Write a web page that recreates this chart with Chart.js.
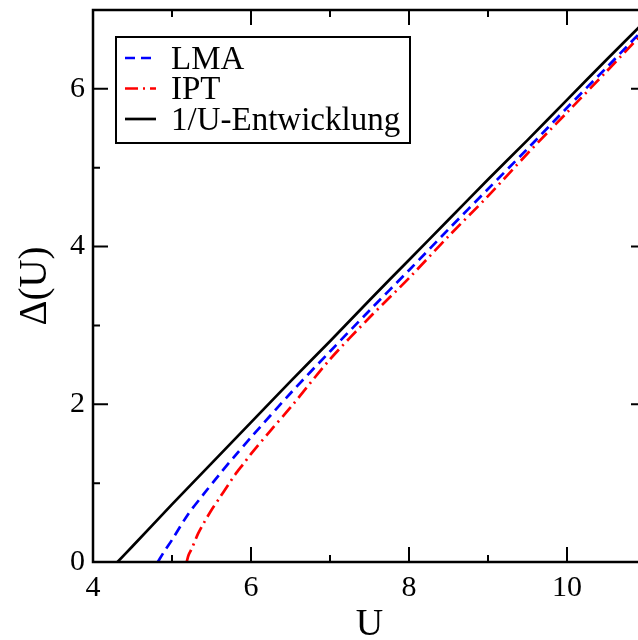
<!DOCTYPE html>
<html>
<head>
<meta charset="utf-8">
<script src="https://cdn.jsdelivr.net/npm/chart.js@4/dist/chart.umd.min.js"></script>
<style>
  html, body { margin: 0; padding: 0; background: #fff; overflow: hidden; }
  #wrap { width: 638px; height: 640px; overflow: hidden; }
</style>
</head>
<body>
<div id="wrap"><canvas id="gap" width="660" height="640"></canvas></div>
<script>
// values
const uLMA = [4.82, 4.9, 5.0, 5.2, 5.4, 5.6, 5.8, 6.0, 6.5, 7.0, 7.5, 8.0, 8.5, 9.0, 9.5, 10.0, 10.5, 11.0];
const gapLMA = [0, 0.13, 0.28, 0.60, 0.86, 1.11, 1.35, 1.58, 2.14, 2.67, 3.19, 3.70, 4.22, 4.73, 5.24, 5.76, 6.27, 6.79];

const uIPT = [5.186, 5.21, 5.25, 5.33, 5.4, 5.5, 5.6, 5.7, 5.8, 5.9, 6.0, 6.25, 6.5, 7.0, 7.5, 8.0, 8.5, 9.0, 9.5, 10.0, 10.5, 11.0];
const gapIPT = [0, 0.09, 0.17, 0.36, 0.49, 0.66, 0.81, 0.96, 1.11, 1.24, 1.37, 1.67, 1.96, 2.57, 3.10, 3.60, 4.13, 4.64, 5.18, 5.70, 6.22, 6.75];

const uExp = [4.31, 4.5, 5.0, 5.5, 6.0, 6.5, 7.0, 7.5, 8.0, 8.5, 9.0, 9.5, 10.0, 10.5, 11.0];
const gapExp = [0, 0.20, 0.73, 1.25, 1.77, 2.29, 2.80, 3.32, 3.83, 4.34, 4.85, 5.35, 5.86, 6.37, 6.87];

const xTicks = [4, 6, 8, 10];
const yTicks = [0, 2, 4, 6];

const serif = '"Liberation Serif", "Times New Roman", serif';

const pts = (xs, ys) => xs.map((x, i) => ({x: x, y: ys[i]}));

// frame, inward ticks on all four sides, legend box
const framePlugin = {
  id: 'frame',
  afterDraw(chart) {
    const ctx = chart.ctx;
    const a = chart.chartArea;
    const xs = chart.scales.x, ys = chart.scales.y;
    ctx.save();
    ctx.strokeStyle = '#000';
    ctx.lineWidth = 2.5;
    ctx.strokeRect(a.left, a.top, a.right - a.left, a.bottom - a.top);
    ctx.lineWidth = 2;
    ctx.beginPath();
    for (let v = 4; v <= 11; v++) {
      const len = v % 2 === 0 ? 15 : 7;
      const px = xs.getPixelForValue(v);
      ctx.moveTo(px, a.bottom); ctx.lineTo(px, a.bottom - len);
      ctx.moveTo(px, a.top); ctx.lineTo(px, a.top + len);
    }
    for (let v = 0; v <= 7; v++) {
      const len = v % 2 === 0 ? 15 : 7;
      const py = ys.getPixelForValue(v);
      ctx.moveTo(a.left, py); ctx.lineTo(a.left + len, py);
      ctx.moveTo(a.right, py); ctx.lineTo(a.right - len, py);
    }
    ctx.stroke();

    // legend
    const bx = 116, by = 37, bw = 294, bh = 106;
    ctx.fillStyle = '#fff';
    ctx.fillRect(bx, by, bw, bh);
    ctx.lineWidth = 2;
    ctx.strokeRect(bx, by, bw, bh);
    ctx.font = '33px ' + serif;
    ctx.textBaseline = 'middle';
    chart.data.datasets.forEach((ds, i) => {
      const ly = 58 + i * 30.5;
      ctx.strokeStyle = ds.borderColor;
      ctx.lineWidth = ds.borderWidth;
      ctx.setLineDash(ds.borderDash || []);
      ctx.beginPath();
      ctx.moveTo(125, ly); ctx.lineTo(156, ly);
      ctx.stroke();
      ctx.setLineDash([]);
      ctx.fillStyle = '#000';
      ctx.fillText(ds.label, 171, ly + 2);
    });
    ctx.restore();
  }
};

new Chart(document.getElementById('gap'), {
  type: 'line',
  data: {
    datasets: [
      {
        label: 'LMA',
        data: pts(uLMA, gapLMA),
        borderColor: '#0000ff',
        borderWidth: 2.7,
        borderDash: [10, 6]
      },
      {
        label: 'IPT',
        data: pts(uIPT, gapIPT),
        borderColor: '#ff0000',
        borderWidth: 2.7,
        borderDash: [13, 5, 2, 5]
      },
      {
        label: '1/U-Entwicklung',
        data: pts(uExp, gapExp),
        borderColor: '#000000',
        borderWidth: 2.7
      }
    ]
  },
  options: {
    responsive: false,
    animation: false,
    events: [],
    layout: { padding: { top: 10, right: 14, left: 0, bottom: 0 } },
    elements: { point: { radius: 0 }, line: { tension: 0.3 } },
    plugins: { legend: { display: false }, tooltip: { enabled: false } },
    scales: {
      x: {
        type: 'linear',
        min: 4,
        max: 11,
        afterBuildTicks: s => { s.ticks = xTicks.map(v => ({value: v})); },
        afterFit: s => { s.height = 78; s.paddingLeft = 0; s.paddingRight = 0; },
        grid: { display: false, drawTicks: false },
        border: { display: false },
        ticks: { color: '#000', padding: 8, font: { family: serif, size: 30 } },
        title: { display: true, text: 'U', color: '#000', padding: 0,
                 font: { family: serif, size: 38, lineHeight: 0.8 } }
      },
      y: {
        type: 'linear',
        min: 0,
        max: 7,
        afterBuildTicks: s => { s.ticks = yTicks.map(v => ({value: v})); },
        afterFit: s => { s.width = 93; s.paddingTop = 0; s.paddingBottom = 0; },
        grid: { display: false, drawTicks: false },
        border: { display: false },
        ticks: { color: '#000', padding: 8, font: { family: serif, size: 30 } },
        title: { display: true, text: 'Δ(U)', color: '#000', padding: { top: 16 },
                 font: { family: serif, size: 39, lineHeight: 1 } }
      }
    }
  },
  plugins: [framePlugin]
});
</script>
</body>
</html>
